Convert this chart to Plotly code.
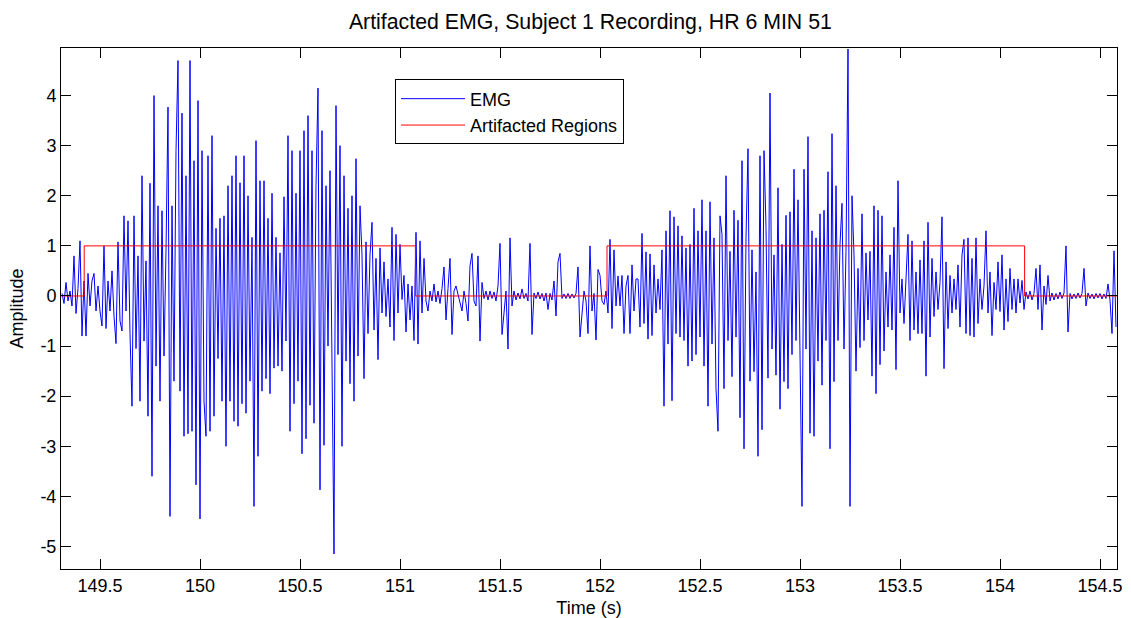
import numpy as np
import plotly.graph_objects as go

# ---- data ----
T0 = 149.31          # time of first EMG sample (s)
DT = 0.01            # sample spacing used for transcription (s)

emg_a = [0.05, -0.15, 0.27, -0.1, 0.1, -0.2, 0.8, -0.35, 0.15, 1.1,
         -0.8, 0.3, -0.8, 0.45, -0.2, 0.3, 0.45, -0.3, 0.2, -0.3,
         -0.6, 1.0, -0.65, 0.3, -0.3, 0.5, -0.4, -0.95, 1.08, -0.5,
         -0.7, 1.6, -0.3, 1.5, -0.75, -2.2, 1.6, -1.05, 0.8, -2.1,
         2.4, -0.9, 0.7, -2.4, 2.25, -3.6, 4.0, -1.4, 1.8, -2.1,
         1.7, -1.2, 0.9, 3.77, -4.4, 1.8, -1.7, 2.9, 4.7, -1.9,
         3.65, -2.8, 2.4, -2.75, 4.7, -2.7]
emg_b = [2.7, -3.77, 3.9, -4.45, 2.9, -2.1, -2.8, 2.8, -2.7, 3.2,
         -2.4, 1.35, -1.25, 1.55, -2.1, 1.6, -3.0, 2.2, -2.1, 2.4,
         -2.5, 2.8, -2.6, 2.26, -2.15, 2.8, -2.34, 2.0, -1.7, 1.17,
         -4.2, 3.1, -3.2, 2.3, -1.9, 2.3, -1.65, 1.55, -1.95, 2.05,
         -1.44, 1.17, -1.4, 0.86, -1.5, 1.98, -0.9, 3.2, -2.7, 2.9,
         -2.15, 2.05, -1.7, 2.9, -3.15, 3.3, -2.85, 3.6, -2.18, 2.9,
         -2.54, 2.2, 4.15, -3.87, 3.3, -2.98]
emg_c = [2.2, -1.0, 2.5, -2.1, -5.15, 3.8, -1.17, 3.0, -3.0, 2.4,
         -1.3, 1.75, -1.75, 2.0, -2.1, 2.74, -1.2, 1.8, 0.82, -1.65,
         1.08, -0.75, 0.82, 1.47, -0.68, 0.75, -1.27, 0.96, -0.34, 0.68,
         -0.41, 0.34, -0.62, 1.37, -0.89, 1.23, -0.34, 1.03, -0.07, 0.41,
         -0.72, 0.24, -0.48, 0.2, -0.89, 1.27, -0.96, 1.1, -0.34, 0.75,
         -0.1, -0.3, 0.1, -0.1, 0.24, -0.12, 0.1, -0.15, 0.15, 0.58,
         -0.48, 0.15, 0.75, -0.77, 0.1, 0.2]
emg_d = [0.05, -0.1, -0.3, 0.1, -0.15, -0.5, 0.6, 0.85, -0.1, -0.2,
         0.8, -0.9, 0.27, -0.05, 0.1, -0.08, 0.1, -0.05, 0.08, -0.1,
         0.2, 1.05, -0.77, -0.34, 0.1, -1.06, 1.16, -0.2, 0.1, -0.08,
         0.06, -0.06, 0.14, -0.05, 0.05, -0.1, 1.05, -0.77, 0.06, -0.05,
         0.08, -0.06, 0.05, -0.1, 0.06, -0.27, 0.05, -0.08, 0.3, -0.4,
         0.68, 0.85, -0.05, 0.04, -0.05, 0.05, -0.05, 0.04, -0.04, 0.05,
         0.58, -0.82, -0.27, 0.1, -0.1, -0.75]
emg_e = [1.0, -0.3, 0.05, -0.88, 0.53, 0.41, -0.1, -0.17, 0.1, -0.34,
         1.13, -0.65, 0.92, -0.2, 0.4, -0.2, 0.41, -0.75, 0.2, 0.41,
         -0.75, 0.62, -0.3, 0.34, 0.34, -0.62, 1.25, -0.55, 0.88, -0.86,
         0.84, -0.79, 0.62, -0.34, 0.34, -0.27, 0.92, -2.2, 1.3, -0.96,
         1.7, -2.09, 1.58, -0.75, 1.4, -0.82, 1.2, -0.89, 0.96, -1.4,
         1.03, -1.3, 1.75, -1.17, 1.3, -0.82, 1.92, -1.4, 1.3, -2.2,
         1.88, -0.96, 1.16, -1.85, -2.7, 1.6]
emg_f = [1.23, -1.85, 2.4, -0.89, 0.89, -1.61, 1.71, -0.82, 1.51, -2.43,
         2.7, -3.05, 1.16, 2.94, -1.7, 0.92, -1.51, 0.48, -3.2, 2.8,
         -2.67, 2.9, 1.37, -1.64, 4.05, -1.06, 0.82, -1.58, 2.16, -2.26,
         1.03, -1.71, 1.61, -1.85, 1.68, -1.17, 2.53, -0.89, 1.92, -1.17,
         -4.2, 2.53, -1.06, 3.18, -2.74, 1.3, -2.8, 1.16, -1.3, 1.64,
         -1.78, 1.71, -0.89, 2.48, -3.05, 3.24, -1.71, 2.2, -0.89, 1.03,
         1.85, -1.06, 0.89, 4.93, -4.2, 2.0]
emg_g = [0.82, -1.5, 0.55, -1.03, 1.64, -0.89, 0.86, -0.48, 0.89, -1.6,
         1.8, -1.95, 1.71, -1.37, 1.6, -1.1, 0.48, -0.62, 0.82, -0.68,
         1.37, -1.47, 2.3, -0.34, 0.34, -0.55, 0.48, 1.23, -0.89, 1.1,
         -0.68, 0.48, -0.75, 0.72, -0.75, 1.1, -1.6, 1.47, -0.82, 0.75,
         -0.41, 0.48, -0.27, 0.27, 1.58, -1.45, 0.68, -0.65, 0.41, -0.34,
         0.34, -0.27, 0.62, -0.62, 0.82, 1.13, -0.75, 1.16, -0.79, 0.75,
         -0.82, 1.16, -0.55, 0.34, -0.27, 0.2]
emg_h = [1.3, -0.34, 0.48, -0.79, 0.27, -0.27, 0.68, -0.31, 0.82, -0.68,
         0.34, -0.51, 0.55, -0.27, 0.34, -0.34, 0.34, -0.14, 0.31, -0.27,
         0.08, -0.06, 0.1, -0.08, 0.05, 0.55, -0.27, 0.62, -0.68, 0.2,
         -0.17, 0.41, -0.1, 0.06, -0.08, 0.05, -0.06, 0.08, -0.05, 0.06,
         1.0, -0.72, 0.05, -0.06, 0.04, -0.05, 0.06, -0.04, 0.05, 0.55,
         -0.2, 0.06, -0.05, 0.04, -0.06, 0.05, -0.04, 0.05, -0.06, 0.04,
         -0.05, 0.24, -0.08, -0.75, 0.9, -0.62]

# artifacted regions (start / end times, s)
art_start = [149.421, 152.035]
art_end = [151.077, 154.123]

x_ticks = [149.5, 150, 150.5, 151, 151.5, 152, 152.5, 153, 153.5, 154, 154.5]
y_ticks = [-5, -4, -3, -2, -1, 0, 1, 2, 3, 4]

X_MIN, X_MAX = 149.305, 154.585
Y_MIN, Y_MAX = -5.45, 4.95

# ---- build series ----
emg = np.array(emg_a + emg_b + emg_c + emg_d + emg_e + emg_f + emg_g + emg_h)
t = T0 + DT * np.arange(len(emg))

red_x = [X_MIN]
red_y = [0]
for s, e in zip(art_start, art_end):
    red_x += [s, e]
    red_y += [1, 0]
red_x.append(X_MAX)
red_y.append(0)

FONT = "Liberation Sans, Arial, Helvetica, sans-serif"

fig = go.Figure()
fig.add_trace(go.Scatter(x=t, y=emg, mode="lines", name="EMG",
                         line=dict(color="#0000FF", width=1)))
fig.add_trace(go.Scatter(x=red_x, y=red_y, mode="lines", name="Artifacted Regions",
                         line=dict(color="#FF0000", width=1, shape="hv")))

axis_common = dict(showline=True, linecolor="black", linewidth=1, mirror="ticks",
                   ticks="inside", ticklen=10, tickcolor="black", tickwidth=1,
                   showgrid=False, zeroline=False, automargin=False,
                   tickfont=dict(family=FONT, size=18, color="black"))

fig.update_layout(
    width=1131, height=618,
    margin=dict(l=61, r=14, t=48, b=49),
    paper_bgcolor="white", plot_bgcolor="white",
    font=dict(family=FONT, size=18, color="black"),
    title=dict(text="Artifacted EMG, Subject 1 Recording, HR 6 MIN 51",
               x=0.522, xanchor="center", y=0.965, yanchor="middle",
               font=dict(family=FONT, size=21.3, color="black")),
    xaxis=dict(range=[X_MIN, X_MAX], tickvals=x_ticks,
               ticktext=[f"{v:g}" for v in x_ticks],
               title=dict(text="Time (s)", standoff=8,
                          font=dict(family=FONT, size=18, color="black")),
               **axis_common),
    yaxis=dict(range=[Y_MIN, Y_MAX], tickvals=y_ticks,
               ticktext=[f"{v:g}" for v in y_ticks],
               title=dict(text="Amplitude", standoff=12,
                          font=dict(family=FONT, size=18, color="black")),
               **axis_common),
    showlegend=True,
    legend=dict(x=0.3163, y=0.9396, xanchor="left", yanchor="top",
                bgcolor="white", bordercolor="black", borderwidth=1,
                font=dict(family=FONT, size=18, color="black"),
                itemwidth=64),
)

fig.write_html("out.html", config={"displayModeBar": False},
               post_script="document.body.style.margin='0';")
